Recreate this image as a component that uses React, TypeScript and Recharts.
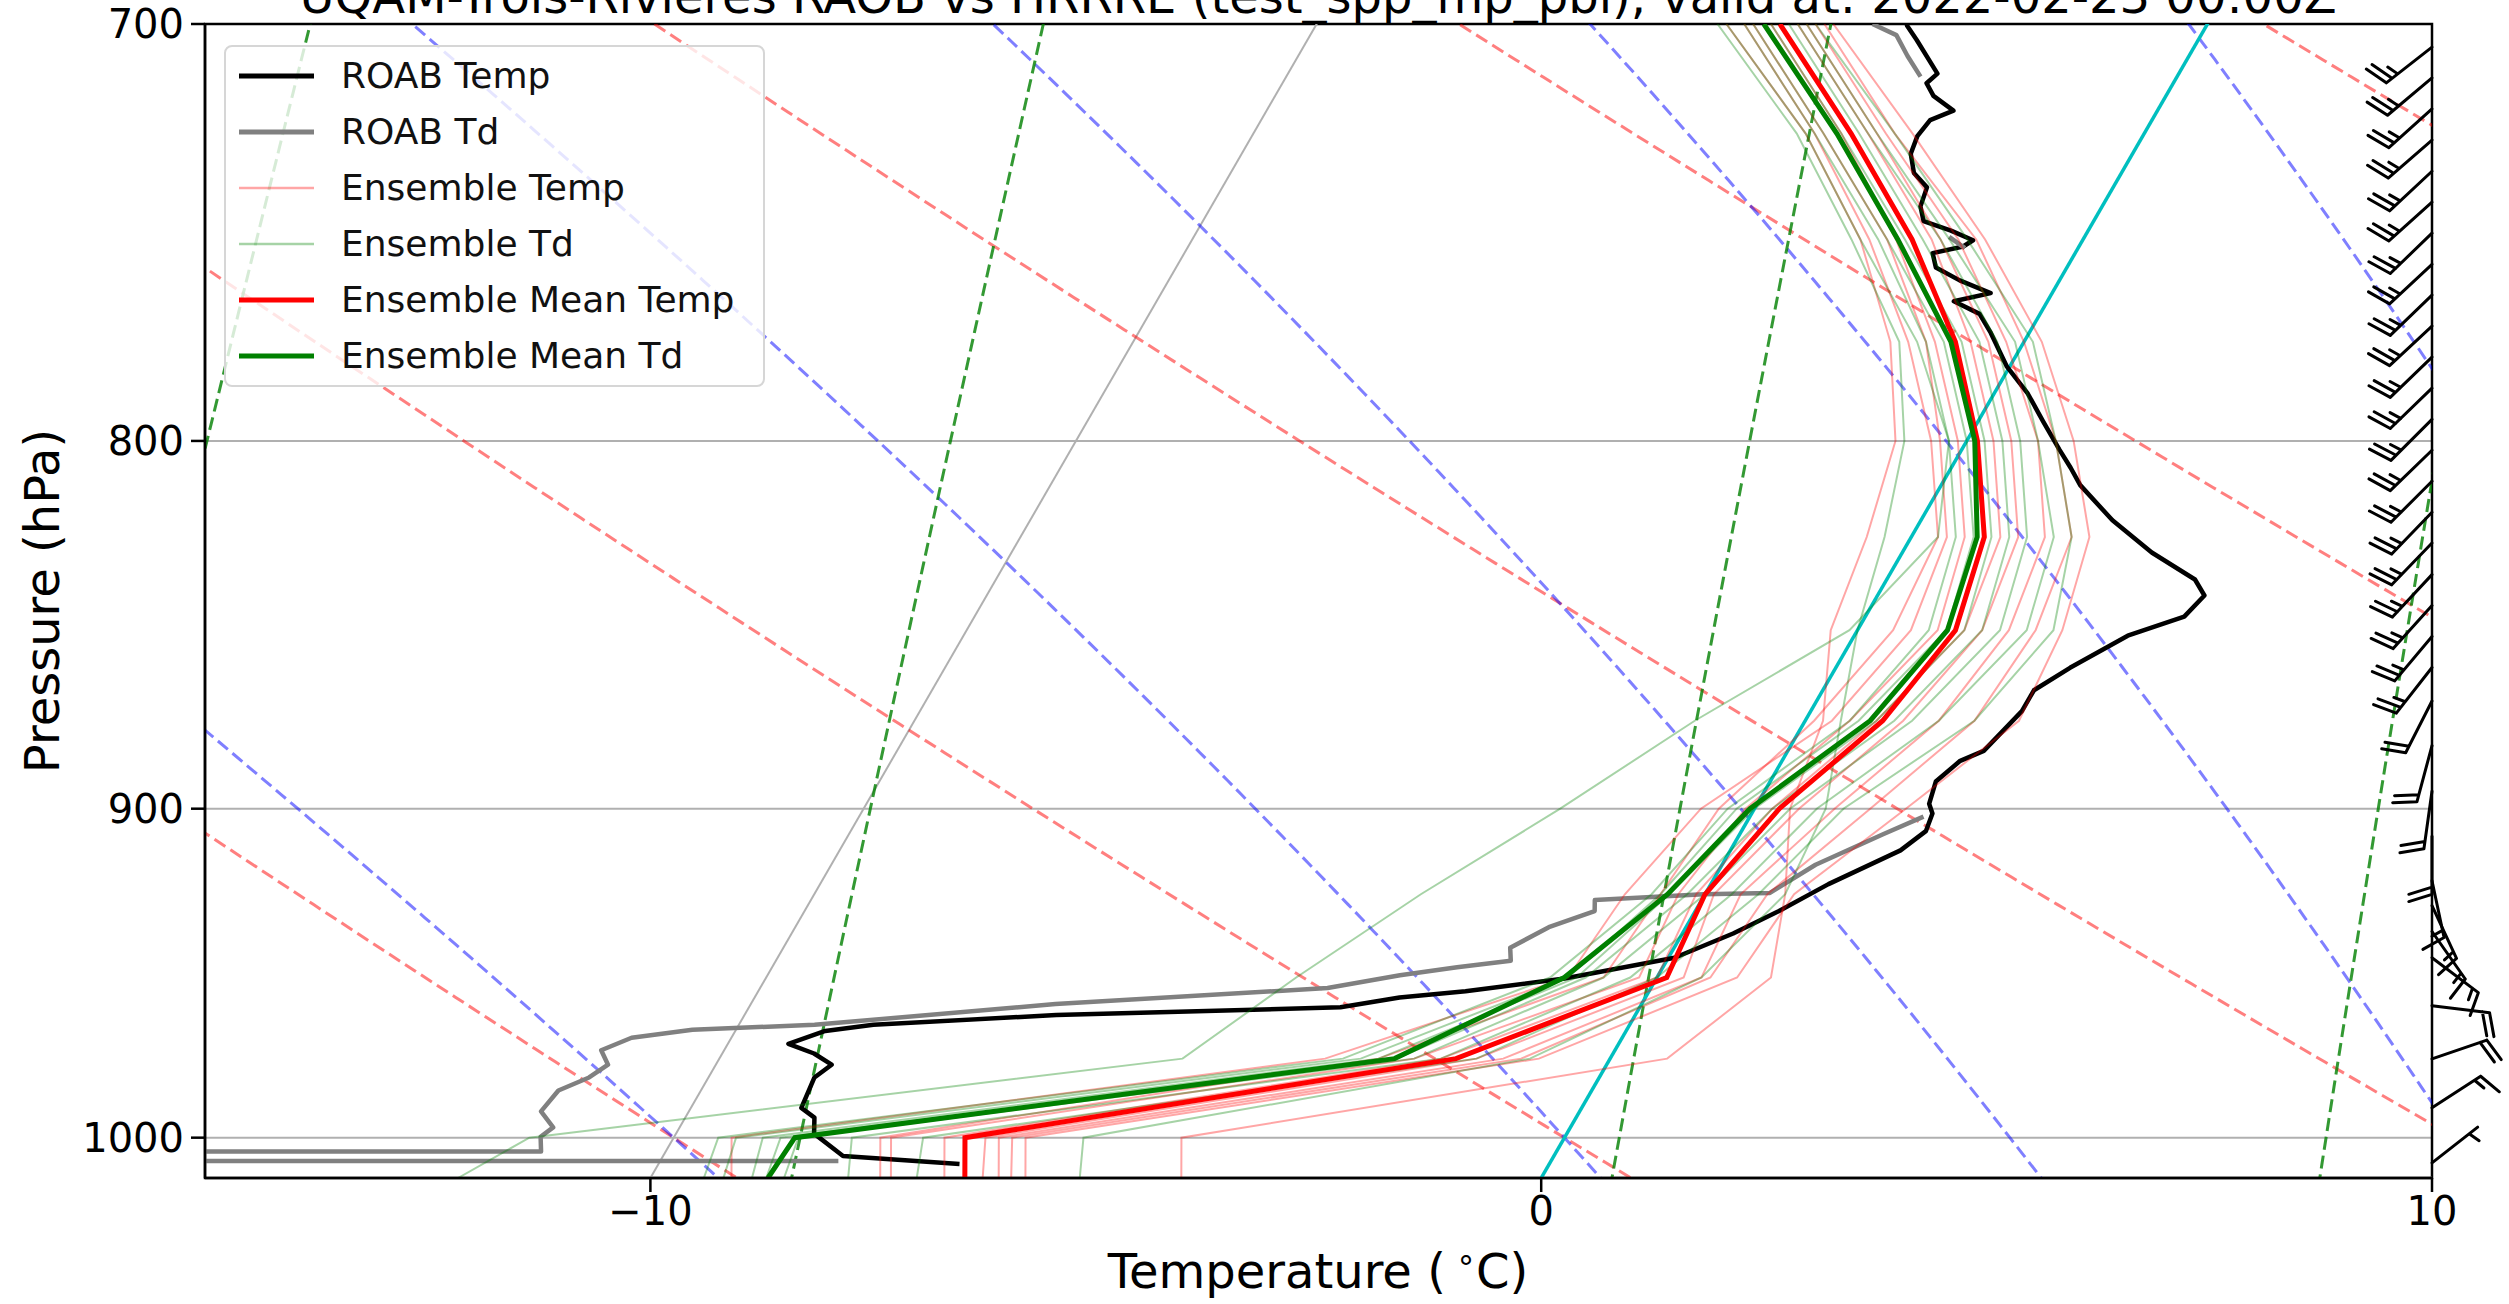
import React from 'react'
import { ComposedChart, Line, XAxis, YAxis, CartesianGrid, ReferenceArea } from 'recharts'

const WIDTH = 2509
const HEIGHT = 1304
const MARGIN = { top: 24, right: 77, bottom: 0, left: 0 }
const Y_AXIS_W = 205
const X_AXIS_H = 126
const T_MIN = -15
const T_MAX = 10
const P_TOP = 700
const P_BOT = 1013

// skew-T: isotherms lean 30 degrees to the right in pixel space
const PLOT_W = WIDTH - Y_AXIS_W - MARGIN.left - MARGIN.right
const PLOT_H = HEIGHT - MARGIN.top - MARGIN.bottom - X_AXIS_H
const SKEW = Math.tan(Math.PI / 6) * (PLOT_H / Math.log(P_BOT / P_TOP)) / (PLOT_W / (T_MAX - T_MIN))
const skewX = (t: number, p: number) => t + SKEW * Math.log(P_BOT / p)

// ---- observed sounding (RAOB) ----
const roabP = [1008.5, 1005.9, 998.7, 993.6, 990.5, 980.9, 976.9, 973.4, 970.4, 966.4, 964.5, 961.5, 959.1, 956.1, 954.2, 950.3, 944.0, 936.7, 930.0, 922.0, 912.1, 906.5, 901.4, 898.6, 892.2, 886.3, 883.5, 872.3, 866.5, 860.3, 851.5, 846.3, 840.6, 836.3, 829.1, 820.6, 811.4, 806.9, 802.3, 795.0, 788.0, 781.2, 772.8, 768.1, 765.0, 763.0, 759.9, 756.8, 753.3, 751.7, 750.2, 747.9, 745.6, 742.1, 737.6, 734.2, 729.7, 725.6, 721.9, 719.7, 716.3, 713.4, 711.2, 703.6, 700.4, 697.0]
const roabT = [-6.62, -7.98, -8.45, -8.55, -8.76, -8.81, -8.70, -8.97, -9.32, -8.99, -8.49, -6.50, -3.36, -2.76, -2.06, -1.03, 0.07, 0.57, 0.94, 1.32, 1.91, 2.07, 2.03, 1.93, 1.86, 2.00, 2.20, 2.37, 2.37, 2.63, 3.07, 3.58, 3.67, 3.46, 2.80, 2.15, 1.56, 1.34, 1.10, 0.73, 0.38, -0.03, -0.43, -0.68, -1.05, -0.69, -1.12, -1.47, -1.60, -1.30, -1.23, -1.54, -1.91, -2.04, -2.09, -2.33, -2.49, -2.53, -2.49, -2.29, -2.61, -2.77, -2.71, -3.16, -3.36, -3.50]

// dewpoint is missing above ~900 hPa apart from a few short pieces (null = gap)
const roabTdP = [1007.5, 1007.5, 1004.4, 1004.4, 999.7, 996.7, 991.6, 985.0, 980.9, 976.9, 972.4, 968.5, 966.0, 964.5, 958.1, 953.2, 949.3, 946.9, 944.9, 941.0, 934.8, 930.0, 926.7, 925.0, 924.6, 916.3, 907.4, 902.3, 800, 752.1, 749.4, 740, 711.9, 707.2, 702.5, 700.0]
const roabTd: (number | null)[] = [-8.00, -18.0, -18.0, -11.40, -11.50, -11.42, -11.66, -11.60, -11.34, -11.21, -11.38, -11.12, -10.49, -9.15, -6.58, -3.63, -2.90, -2.31, -1.75, -1.84, -1.54, -1.13, -1.20, -0.02, 0.72, 1.05, 1.61, 1.95, null, -1.27, -1.52, null, -2.88, -3.16, -3.42, -3.76]

// ---- HRRRE ensemble on model levels ----
const ensP = [1013, 1000, 975, 950, 925, 900, 875, 850, 825, 800, 775, 750, 725, 700]
const ensTempMembers = [
  [-9.09, -9.35, -3.2, -1.0, -0.9, -0.6, 0.3, 0.6, 0.4, -0.3, -1.1, -2.2, -3.6, -5.1],
  [-7.42, -7.68, -2.6, -0.6, -0.5, -0.4, 0.1, 0.4, 0.3, -0.4, -1.3, -2.4, -3.7, -5.2],
  [-7.30, -7.56, -2.2, -0.2, -0.3, -0.1, 0.5, 0.9, 0.6, -0.1, -1.0, -2.1, -3.4, -4.9],
  [-6.70, -6.96, -1.9, 0.0, -0.1, 0.2, 0.8, 1.2, 1.0, 0.3, -0.6, -1.7, -3.1, -4.6],
  [-6.27, -6.50, -1.5, 0.3, 0.1, 0.5, 1.1, 1.4, 1.2, 0.5, -0.4, -1.6, -3.0, -4.5],
  [-6.09, -6.35, -1.2, 0.5, 0.4, 0.9, 1.5, 1.7, 1.5, 0.8, -0.2, -1.4, -2.9, -4.4],
  [-5.95, -6.20, -1.0, 0.6, 0.7, 1.3, 1.9, 2.0, 1.8, 1.0, 0.0, -1.2, -2.8, -4.3],
  [-5.79, -6.05, -0.8, 0.9, 1.0, 1.7, 2.4, 2.3, 2.0, 1.2, 0.2, -1.1, -2.6, -4.2],
  [-4.04, -4.30, 0.64, 1.28, 0.9, 0.4, 0.2, -0.3, -0.5, -0.8, -1.5, -2.5, -3.8, -5.4],
]
const ensTdMembers = [
  [-12.16, -11.62, -4.8, -4.05, -3.19, -2.18, -1.24, -0.09, 0.3, -0.2, -1.2, -2.5, -3.8, -5.4],
  [-9.40, -9.50, -3.0, -1.2, -0.6, -0.3, 0.5, 0.8, 0.5, -0.2, -1.1, -2.3, -3.7, -5.2],
  [-9.18, -9.30, -2.8, -1.0, -0.5, -0.2, 0.6, 1.0, 0.7, 0.0, -0.9, -2.2, -3.6, -5.1],
  [-8.86, -9.00, -2.6, -0.9, -0.4, 0.0, 0.8, 1.2, 0.9, 0.2, -0.7, -2.0, -3.4, -4.9],
  [-8.70, -8.80, -2.4, -0.8, -0.2, 0.2, 1.0, 1.4, 1.1, 0.4, -0.5, -1.8, -3.2, -4.7],
  [-8.50, -8.60, -2.2, -0.6, 0.0, 0.4, 1.2, 1.6, 1.3, 0.6, -0.3, -1.6, -3.1, -4.6],
  [-7.78, -8.00, -1.9, -0.3, 0.3, 0.7, 1.5, 1.9, 1.6, 0.8, -0.1, -1.5, -3.0, -4.5],
  [-7.01, -7.20, -1.5, 0.0, 0.6, 1.0, 1.9, 2.2, 1.8, 1.0, 0.1, -1.3, -2.8, -4.4],
  [-5.18, -5.40, -0.9, 0.5, 0.9, 0.8, 0.4, 0.0, -0.3, -0.7, -1.4, -2.6, -3.9, -5.5],
]
const ensMeanT = [-6.47, -6.73, -1.73, 0.11, 0.0, 0.28, 0.87, 1.10, 0.82, 0.12, -0.77, -1.92, -3.29, -4.80]
const ensMeanTd = [-8.68, -8.64, -2.42, -1.04, -0.42, -0.05, 0.73, 1.01, 0.74, 0.09, -0.82, -2.08, -3.45, -4.98]

// ---- wind barbs (RAOB), knots and direction wind blows from ----
const barbP = [705.2, 712.2, 719.3, 726.5, 733.8, 741.1, 748.5, 756.0, 763.5, 771.1, 778.8, 786.6, 794.5, 802.4, 810.4, 818.5, 826.6, 835.0, 843.3, 851.7, 860.2, 869.5, 882, 895, 908, 921, 928.4, 936.1, 944.0, 958.6, 975.1, 990.5, 1008.1]
const barbKt = [25, 25, 25, 25, 25, 25, 25, 25, 25, 25, 25, 25, 25, 25, 25, 25, 25, 25, 25, 25, 25, 20, 20, 20, 20, 15, 15, 15, 15, 20, 20, 15, 5]
const barbDir = [232, 230, 228, 229, 227, 228, 226, 227, 226, 227, 226, 226, 225, 226, 225, 224, 224, 223, 222, 220, 218, 207, 195, 188, 180, 168, 155, 145, 127, 97, 71, 57, 52]

// ---- background reference lines (defined by their starting values) ----
const dryT0 = [-20, -10, 0, 10, 20, 30, 40]          // degC at 1000 hPa
const moistT0 = [-10, 0, 5, 10, 15, 20]              // degC at 1000 hPa
const mixW = [0.0004, 0.001, 0.002, 0.004, 0.007, 0.01] // kg/kg
const gridIsotherms = [-10, 10]
const yTicks = [700, 800, 900, 1000]
const xTicks = [-10, 0, 10]

const Rd = 287.04749
const Cp = 1004.6662
const Lv = 2.50084e6
const EPS = 0.6219569
const KAPPA = Rd / Cp

const guideP: number[] = []
for (let p = 1016; p >= 688; p -= 4) guideP.push(p)

const satVap = (tk: number) => { const tc = tk - 273.15; return 6.112 * Math.exp(17.67 * tc / (tc + 243.5)) }
const moistDTdp = (p: number, tk: number) => {
  const es = satVap(tk)
  const rs = EPS * es / (p - es)
  return (Rd * tk + Lv * rs) / (Cp + (Lv * Lv * rs * EPS) / (Rd * tk * tk)) / p
}
const moistFrom = (t0: number) => {
  const integrate = (dp: number, stop: (p: number) => boolean) => {
    const out: { p: number; t: number }[] = []
    let p = 1000
    let t = t0 + 273.15
    while (!stop(p)) {
      const k1 = moistDTdp(p, t)
      const k2 = moistDTdp(p + dp / 2, t + dp / 2 * k1)
      const k3 = moistDTdp(p + dp / 2, t + dp / 2 * k2)
      const k4 = moistDTdp(p + dp, t + dp * k3)
      t += dp / 6 * (k1 + 2 * k2 + 2 * k3 + k4)
      p += dp
      out.push({ p, t: t - 273.15 })
    }
    return out
  }
  const down = integrate(4, (p) => p >= 1016).reverse()
  const up = integrate(-4, (p) => p <= 688)
  return [...down, { p: 1000, t: t0 }, ...up].map((d) => ({ x: skewX(d.t, d.p), p: d.p }))
}

const pts = (ps: number[], ts: (number | null)[]) =>
  ps.map((p, i) => (ts[i] == null ? { x: null, p: null } : { x: skewX(ts[i] as number, p), p }))

const dryLines = dryT0.map((t0) => guideP.map((p) => ({ x: skewX((t0 + 273.15) * Math.pow(p / 1000, KAPPA) - 273.15, p), p })))
const moistLines = moistT0.map(moistFrom)
const mixLines = mixW.map((w) => guideP.map((p) => {
  const l = Math.log((p * w / (EPS + w)) / 6.112)
  return { x: skewX(243.5 * l / (17.67 - l), p), p }
}))
const isoLine = (t: number) => [{ x: skewX(t, 1016), p: 1016 }, { x: skewX(t, 688), p: 688 }]

const roabTPts = pts(roabP, roabT)
const roabTdPts = pts(roabTdP, roabTd)
const memberTPts = ensTempMembers.map((m) => pts(ensP, m))
const memberTdPts = ensTdMembers.map((m) => pts(ensP, m))
const meanTPts = pts(ensP, ensMeanT)
const meanTdPts = pts(ensP, ensMeanTd)
const barbPts = barbP.map((p, i) => ({ x: T_MAX, p, kt: barbKt[i], dir: barbDir[i] }))

const LEGEND = [
  { label: 'ROAB Temp', color: '#000000', width: 5, opacity: 1 },
  { label: 'ROAB Td', color: '#808080', width: 5, opacity: 1 },
  { label: 'Ensemble Temp', color: '#ff0000', width: 2.5, opacity: 0.35 },
  { label: 'Ensemble Td', color: '#008000', width: 2.5, opacity: 0.35 },
  { label: 'Ensemble Mean Temp', color: '#ff0000', width: 5, opacity: 1 },
  { label: 'Ensemble Mean Td', color: '#008000', width: 5, opacity: 1 },
]

const FONT = '"DejaVu Sans", sans-serif'

function renderBarb(props: any) {
  const { cx, cy, payload, index } = props
  if (cx == null || cy == null) return <g key={index} />
  const L = 58
  const rad = (payload.dir * Math.PI) / 180
  const sx = Math.sin(rad)
  const sy = -Math.cos(rad)
  const nx = -sy
  const ny = sx
  const ex = cx + L * sx
  const ey = cy + L * sy
  const sp = 0.125 * L
  const h = 0.4 * L
  const w = 0.25 * L
  const spd = Math.round(payload.kt / 5) * 5
  const nFull = Math.floor(spd / 10)
  const half = spd % 10 >= 5
  let d = `M${cx},${cy}L${ex},${ey}`
  let off = 0
  for (let i = 0; i < nFull; i++) {
    const bx = ex - off * sx
    const by = ey - off * sy
    d += `M${bx},${by}L${bx + h * nx + (w / 2) * sx},${by + h * ny + (w / 2) * sy}`
    off += sp
  }
  if (half) {
    if (nFull === 0) off = 1.5 * sp
    const bx = ex - off * sx
    const by = ey - off * sy
    d += `M${bx},${by}L${bx + (h / 2) * nx + (w / 4) * sx},${by + (h / 2) * ny + (w / 4) * sy}`
  }
  return <path key={index} d={d} stroke="#000" strokeWidth={3} fill="none" strokeLinecap="round" />
}

const fmtT = (v: number) => (v < 0 ? `\u2212${-v}` : `${v}`)

export default function App() {
  const common = { type: 'linear' as const, dot: false, activeDot: false, isAnimationActive: false, legendType: 'none' as const, dataKey: 'p' }
  const dash = '13 6'
  return (
    <div style={{ position: 'absolute', left: 0, top: 0, width: WIDTH, height: HEIGHT, background: '#fff', fontFamily: FONT, overflow: 'hidden' }}>
      <ComposedChart width={WIDTH} height={HEIGHT} margin={MARGIN}>
        <CartesianGrid horizontal vertical={false} stroke="#b0b0b0" strokeWidth={2} />
        <XAxis
          type="number"
          dataKey="x"
          domain={[T_MIN, T_MAX]}
          allowDataOverflow
          ticks={xTicks}
          tickFormatter={fmtT}
          height={X_AXIS_H}
          tickSize={14}
          tickMargin={5}
          stroke="#000"
          strokeWidth={2.5}
          tick={{ fill: '#000', fontSize: 40, fontFamily: FONT }}
        />
        <YAxis
          type="number"
          scale="log"
          domain={[P_TOP, P_BOT]}
          allowDataOverflow
          reversed
          ticks={yTicks}
          width={Y_AXIS_W}
          tickSize={14}
          tickMargin={7}
          stroke="#000"
          strokeWidth={2.5}
          tick={{ fill: '#000', fontSize: 40, fontFamily: FONT }}
        />
        <XAxis xAxisId="b" type="number" dataKey="x" domain={[T_MIN, T_MAX]} hide />
        <YAxis yAxisId="b" type="number" scale="log" domain={[P_TOP, P_BOT]} reversed hide />

        {gridIsotherms.map((t) => (
          <Line key={`iso${t}`} {...common} data={isoLine(t)} stroke="#b0b0b0" strokeWidth={2} />
        ))}
        {dryLines.map((d, i) => (
          <Line key={`dry${i}`} {...common} data={d} stroke="#ff0000" strokeOpacity={0.5} strokeWidth={3} strokeDasharray={dash} />
        ))}
        {moistLines.map((d, i) => (
          <Line key={`moist${i}`} {...common} data={d} stroke="#0000ff" strokeOpacity={0.5} strokeWidth={3} strokeDasharray={dash} />
        ))}
        {mixLines.map((d, i) => (
          <Line key={`mix${i}`} {...common} data={d} stroke="#008000" strokeOpacity={0.8} strokeWidth={3} strokeDasharray={dash} />
        ))}
        <Line {...common} data={isoLine(0)} stroke="#00bfbf" strokeWidth={3.5} />

        <Line {...common} data={roabTPts} stroke="#000000" strokeWidth={4.5} strokeLinejoin="round" />
        <Line {...common} data={roabTdPts} stroke="#808080" strokeWidth={4.5} strokeLinejoin="round" />
        {memberTPts.map((d, i) => (
          <Line key={`mt${i}`} {...common} data={d} stroke="#ff0000" strokeOpacity={0.35} strokeWidth={2} />
        ))}
        {memberTdPts.map((d, i) => (
          <Line key={`md${i}`} {...common} data={d} stroke="#008000" strokeOpacity={0.35} strokeWidth={2} />
        ))}
        <Line {...common} data={meanTPts} stroke="#ff0000" strokeWidth={5} />
        <Line {...common} data={meanTdPts} stroke="#008000" strokeWidth={5} />

        <Line {...common} xAxisId="b" yAxisId="b" data={barbPts} stroke="none" dot={renderBarb} />

        <ReferenceArea x1={T_MIN} x2={T_MAX} y1={P_TOP} y2={P_BOT} fill="none" stroke="#000" strokeWidth={2.5} />
      </ComposedChart>

      <svg width={WIDTH} height={HEIGHT} style={{ position: 'absolute', left: 0, top: 0, pointerEvents: 'none' }}>
        <text x={1318} y={13} textAnchor="middle" fontSize={48} fontFamily={FONT} fill="#000">
          UQAM-Trois-Rivieres RAOB vs HRRRE (test_spp_mp_pbl), valid at: 2022-02-23 00:00Z
        </text>
        <text x={1318} y={1288} textAnchor="middle" fontSize={48} fontFamily={FONT} fill="#000">
          Temperature (<tspan dx={10} dy={-18} fontSize={32}>∘</tspan><tspan dy={18}>C)</tspan>
        </text>
        <text transform="translate(59, 601) rotate(-90)" textAnchor="middle" fontSize={48} fontFamily={FONT} fill="#000">
          Pressure (hPa)
        </text>
      </svg>

      <div
        style={{
          position: 'absolute', left: 224, top: 45, width: 541, height: 342, boxSizing: 'border-box',
          border: '2px solid #d6d6d6', borderRadius: 8, background: 'rgba(255,255,255,0.8)',
        }}
      >
        {LEGEND.map((it, i) => (
          <div key={it.label} style={{ position: 'absolute', left: 0, top: 29 + 56 * i - 28, height: 56, display: 'flex', alignItems: 'center' }}>
            <svg width={100} height={56} style={{ marginLeft: 11 }}>
              <line x1={2} x2={77} y1={28} y2={28} stroke={it.color} strokeOpacity={it.opacity} strokeWidth={it.width} />
            </svg>
            <span style={{ marginLeft: 4, fontSize: 36, color: '#111', whiteSpace: 'nowrap', lineHeight: '56px' }}>{it.label}</span>
          </div>
        ))}
      </div>
    </div>
  )
}
